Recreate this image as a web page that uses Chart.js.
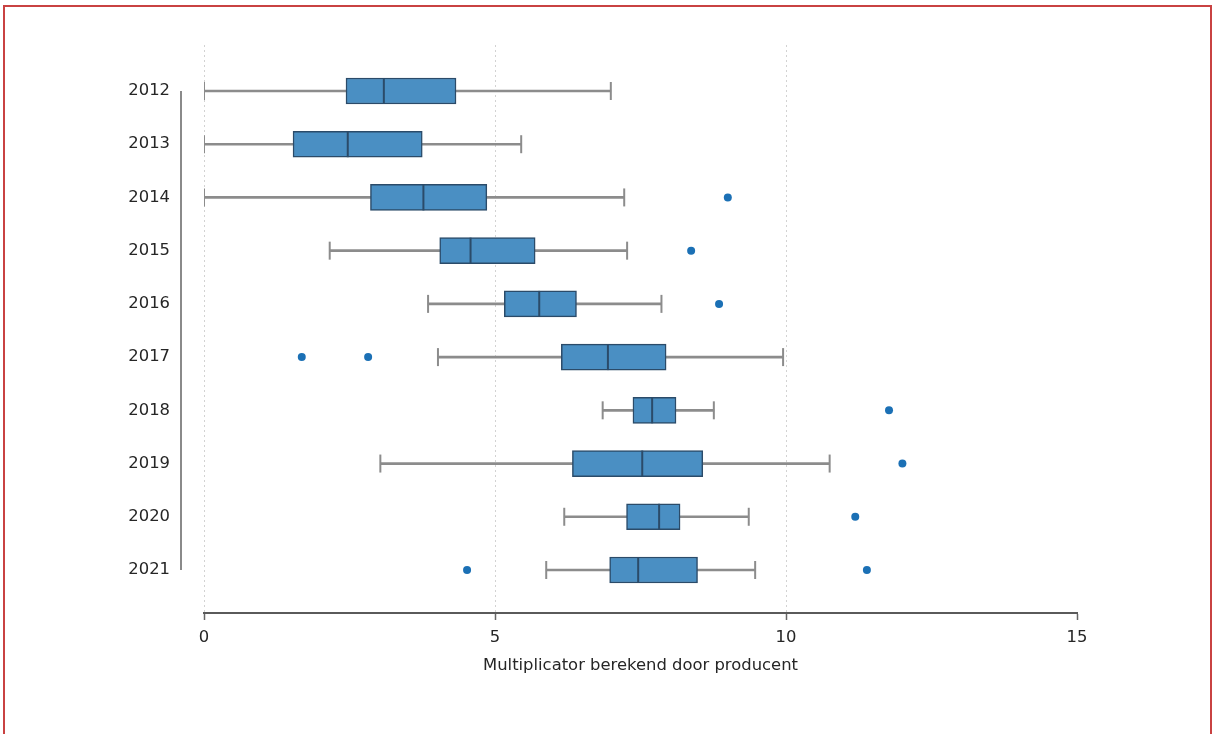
<!DOCTYPE html>
<html lang="nl">
<head>
<meta charset="utf-8">
<title>Multiplicator berekend door producent</title>
<script src="https://cdn.jsdelivr.net/npm/chart.js@4.4.1/dist/chart.umd.min.js"></script>
<style>
  html, body { margin: 0; padding: 0; background: #ffffff; }
  #wrap { position: relative; width: 1212px; height: 734px; overflow: hidden; background: #ffffff; }
  #frame {
    position: absolute; left: 3px; top: 5px; width: 1205px; height: 800px;
    border: 2px solid #c94242; pointer-events: none;
  }
</style>
</head>
<body>
<div id="wrap">
  <canvas id="chart" width="1212" height="734"></canvas>
  <div id="frame"></div>
</div>
<script>
// Multiplicator per jaar: kwartielen, snorharen en uitschieters
const categories  = ['2012', '2013', '2014', '2015', '2016', '2017', '2018', '2019', '2020', '2021'];
const whiskerLow  = [0.00, 0.00, 0.00, 2.16, 3.85, 4.02, 6.85, 3.03, 6.19, 5.88];
const quartile1   = [2.44, 1.53, 2.86, 4.05, 5.16, 6.14, 7.37, 6.33, 7.26, 6.97];
const medians     = [3.09, 2.47, 3.77, 4.58, 5.76, 6.94, 7.70, 7.53, 7.82, 7.46];
const quartile3   = [4.33, 3.75, 4.86, 5.69, 6.40, 7.94, 8.11, 8.57, 8.18, 8.48];
const whiskerHigh = [6.99, 5.45, 7.22, 7.27, 7.86, 9.95, 8.76, 10.75, 9.36, 9.47];
const outlierYears  = ['2014', '2015', '2016', '2017', '2017', '2018', '2019', '2020', '2021', '2021'];
const outlierValues = [9.00, 8.37, 8.85, 1.68, 2.82, 11.77, 12.00, 11.19, 4.52, 11.39];
const xTicks = [0, 5, 10, 15];
const xTitle = 'Multiplicator berekend door producent';

const FONT = 'DejaVu Sans';
const TEXT = '#262626';
const BOX_FILL = '#4a8fc3';
const BOX_EDGE = '#2b4b69';
const WHISKER = '#8c8c8c';
const DOT = '#1b70b5';

const idx = categories.map((c, i) => i);

// Verticale aslijn links, van de eerste tot de laatste categorie
const yAxisLine = {
  id: 'yAxisLine',
  afterDraw(chart) {
    const { ctx, scales: { y }, chartArea } = chart;
    const x = chartArea.left - 23;
    ctx.save();
    ctx.strokeStyle = '#8a8a8a';
    ctx.lineWidth = 2;
    ctx.beginPath();
    ctx.moveTo(x, y.getPixelForValue(0));
    ctx.lineTo(x, y.getPixelForValue(categories.length - 1));
    ctx.stroke();
    ctx.restore();
  }
};

new Chart(document.getElementById('chart'), {
  type: 'bar',
  data: {
    datasets: [
      {
        type: 'line', label: 'uitschieters', order: 0, showLine: false,
        data: outlierValues.map((v, k) => ({ x: v, y: categories.indexOf(outlierYears[k]) })),
        pointRadius: 4, pointBackgroundColor: DOT, pointBorderColor: DOT, pointBorderWidth: 0
      },
      {
        type: 'line', label: 'mediaan', order: 1, showLine: false,
        data: medians.map((v, i) => ({ x: v, y: idx[i] })),
        pointStyle: 'line', rotation: 90, pointRadius: 13,
        pointBorderColor: BOX_EDGE, pointBorderWidth: 2
      },
      {
        type: 'bar', label: 'kwartielen', order: 2, grouped: false,
        data: quartile1.map((v, i) => ({ x: [v, quartile3[i]], y: idx[i] })),
        backgroundColor: BOX_FILL, borderColor: BOX_EDGE, borderWidth: 1.5,
        borderSkipped: false, barThickness: 26
      },
      {
        type: 'line', label: 'snorhaar-eind', order: 3, showLine: false,
        data: whiskerLow.map((v, i) => ({ x: v, y: idx[i] }))
          .concat(whiskerHigh.map((v, i) => ({ x: v, y: idx[i] }))),
        pointStyle: 'line', rotation: 90, pointRadius: 9,
        pointBorderColor: WHISKER, pointBorderWidth: 2
      },
      {
        type: 'bar', label: 'snorhaar', order: 4, grouped: false,
        data: whiskerLow.map((v, i) => ({ x: [v, whiskerHigh[i]], y: idx[i] })),
        backgroundColor: WHISKER, borderWidth: 0, barThickness: 2
      }
    ]
  },
  options: {
    indexAxis: 'y',
    responsive: false,
    animation: false,
    events: [],
    layout: { padding: { top: 45, right: 135, bottom: 58, left: 0 } },
    plugins: { legend: { display: false }, tooltip: { enabled: false } },
    font: { family: FONT },
    scales: {
      x: {
        type: 'linear', position: 'bottom', min: 0, max: 15, offset: false,
        afterBuildTicks: s => { s.ticks = xTicks.map(v => ({ value: v })); },
        afterFit: s => { s.height = 63; },
        ticks: { color: TEXT, padding: 8, font: { family: FONT, size: 16.4 }, maxRotation: 0 },
        grid: {
          color: c => (c.tick && c.tick.value === 15 ? 'rgba(0,0,0,0)' : '#d2d2d2'),
          lineWidth: 1, drawTicks: true, tickLength: 7, tickColor: '#666666', tickWidth: 1.5
        },
        border: { display: true, color: '#5a5a5a', width: 2, dash: [2, 3] },
        title: {
          display: true, text: xTitle, color: TEXT,
          font: { family: FONT, size: 16.4 }, padding: { top: 4, bottom: 0 }
        }
      },
      y: {
        type: 'linear', reverse: true, min: -0.864, max: 9.808, offset: false,
        afterBuildTicks: s => { s.ticks = idx.map(v => ({ value: v })); },
        afterFit: s => { s.width = 204; },
        ticks: {
          color: TEXT, padding: 34, font: { family: FONT, size: 16.4 },
          callback: v => categories[v]
        },
        grid: { display: false, drawTicks: false, offset: false },
        border: { display: false }
      }
    }
  },
  plugins: [yAxisLine]
});
</script>
</body>
</html>
